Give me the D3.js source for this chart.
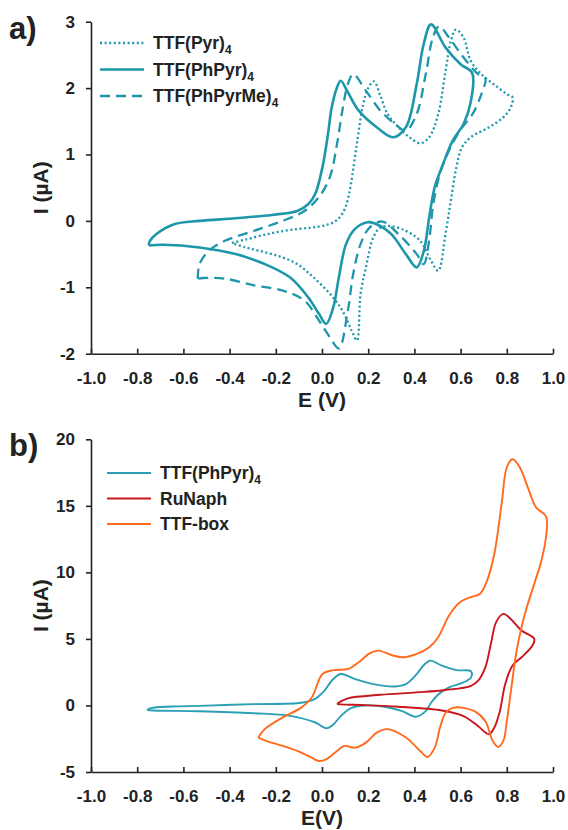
<!DOCTYPE html>
<html>
<head>
<meta charset="utf-8">
<script src="https://cdn.jsdelivr.net/npm/d3@7"></script>
<style>
  body { margin: 0; background: #fff; }
  svg text { font-family: "Liberation Sans", Arial, sans-serif; font-weight: bold; fill: #222; }
</style>
</head>
<body>
<div id="chart"></div>
<script>
// panel a) - TTF(Pyr)4, dotted
var pyrE = [-0.39, -0.33, -0.25, -0.18, -0.10, -0.04, 0.02, 0.06, 0.09, 0.11, 0.125, 0.15, 0.178, 0.2, 0.225, 0.253, 0.284, 0.331, 0.378, 0.425, 0.464, 0.503, 0.535, 0.558, 0.579, 0.613, 0.644, 0.69, 0.754, 0.80, 0.825,
            0.817, 0.785, 0.723, 0.644, 0.605, 0.582, 0.558, 0.535, 0.503, 0.472, 0.425, 0.363, 0.30, 0.253, 0.222, 0.19, 0.167, 0.151, 0.128, 0.096, 0.05, -0.037, -0.107, -0.18, -0.26, -0.33, -0.39];
var pyrI = [-0.33, -0.28, -0.21, -0.16, -0.12, -0.10, -0.06, 0.0, 0.12, 0.30, 0.55, 1.14, 1.75, 2.0, 2.10, 1.88, 1.61, 1.41, 1.26, 1.17, 1.26, 1.61, 2.26, 2.71, 2.88, 2.76, 2.41, 2.21, 2.03, 1.91, 1.86,
            1.71, 1.56, 1.41, 1.26, 1.10, 0.81, 0.31, -0.19, -0.75, -0.60, -0.30, -0.15, -0.08, -0.10, -0.25, -0.70, -1.10, -1.80, -1.65, -1.40, -1.16, -0.85, -0.65, -0.54, -0.46, -0.40, -0.33];

// TTF(PhPyr)4, solid
var phPyrE = [-0.75, -0.745, -0.718, -0.64, -0.53, -0.374, -0.217, -0.107, -0.06, -0.029, 0.002, 0.026, 0.042, 0.065, 0.081, 0.11, 0.159, 0.237, 0.308, 0.363, 0.41, 0.44, 0.472, 0.535, 0.60, 0.65,
              0.645, 0.613, 0.566, 0.519, 0.488, 0.464, 0.441, 0.41, 0.363, 0.30, 0.237, 0.198, 0.143, 0.104, 0.073, 0.049, 0.018, -0.013, -0.06, -0.139, -0.248, -0.374, -0.53, -0.687, -0.75];
var phPyrI = [-0.37, -0.30, -0.20, -0.05, 0.0, 0.04, 0.09, 0.15, 0.25, 0.41, 0.81, 1.31, 1.71, 2.01, 2.11, 1.95, 1.66, 1.41, 1.26, 1.41, 2.06, 2.66, 2.96, 2.61, 2.36, 2.23,
              1.81, 1.46, 1.21, 0.81, 0.51, 0.05, -0.45, -0.70, -0.50, -0.20, -0.05, -0.02, -0.12, -0.35, -0.85, -1.30, -1.55, -1.40, -1.15, -0.85, -0.65, -0.50, -0.40, -0.36, -0.37];

// TTF(PhPyrMe)4, dashed
var phPyrMeE = [-0.538, -0.53, -0.49, -0.42, -0.295, -0.17, -0.076, -0.013, 0.034, 0.065, 0.088, 0.112, 0.135, 0.19, 0.253, 0.316, 0.363, 0.41, 0.449, 0.48, 0.507, 0.55, 0.613, 0.676, 0.707,
                0.69, 0.652, 0.597, 0.55, 0.51, 0.48, 0.464, 0.44, 0.41, 0.331, 0.261, 0.206, 0.167, 0.135, 0.112, 0.073, 0.034, -0.013, -0.076, -0.17, -0.295, -0.42, -0.515, -0.538];
var phPyrMeI = [-0.87, -0.65, -0.45, -0.30, -0.15, 0.0, 0.15, 0.36, 0.66, 1.16, 1.66, 2.06, 2.21, 1.96, 1.66, 1.46, 1.36, 1.61, 2.21, 2.76, 2.93, 2.76, 2.46, 2.21, 2.15,
                1.91, 1.61, 1.36, 1.06, 0.71, 0.21, -0.29, -0.65, -0.50, -0.20, -0.01, -0.10, -0.35, -0.80, -1.35, -1.92, -1.75, -1.50, -1.20, -1.05, -0.97, -0.87, -0.86, -0.87];

// panel b) - TTF(PhPyr)4
var bPhPyrE = [-0.757, -0.74, -0.65, -0.53, -0.295, -0.09, -0.03, 0.01, 0.042, 0.081, 0.143, 0.222, 0.316, 0.363, 0.41, 0.441, 0.469, 0.519, 0.582, 0.645,
               0.645, 0.613, 0.55, 0.503, 0.472, 0.449, 0.406, 0.347, 0.269, 0.19, 0.128, 0.081, 0.049, 0.018, -0.029, -0.139, -0.295, -0.53, -0.734, -0.757];
var bPhPyrI = [-0.35, -0.20, -0.08, -0.03, 0.10, 0.20, 0.50, 1.10, 1.86, 2.36, 1.98, 1.60, 1.43, 1.60, 2.36, 3.04, 3.37, 2.99, 2.66, 2.56,
               2.11, 1.73, 1.36, 0.83, 0.20, -0.43, -0.85, -0.43, -0.10, 0.0, -0.18, -0.80, -1.43, -1.71, -1.28, -0.78, -0.58, -0.43, -0.38, -0.35];

// RuNaph
var ruE = [0.065, 0.112, 0.253, 0.41, 0.535, 0.645, 0.676, 0.707, 0.731, 0.754, 0.785, 0.817, 0.864, 0.919,
           0.911, 0.864, 0.825, 0.793, 0.77, 0.746, 0.723, 0.676, 0.613, 0.519, 0.331, 0.175, 0.081, 0.065];
var ruI = [0.13, 0.53, 0.80, 0.98, 1.16, 1.48, 1.86, 2.86, 4.62, 6.26, 6.88, 6.50, 5.63, 5.00,
           4.50, 3.62, 3.00, 1.60, -0.43, -1.66, -2.16, -1.56, -0.80, -0.38, -0.10, 0.03, 0.08, 0.13];

// TTF-box
var boxE = [-0.276, -0.248, -0.17, -0.092, -0.045, 0.002, 0.049, 0.112, 0.159, 0.206, 0.245, 0.30, 0.355, 0.41, 0.464, 0.503, 0.55, 0.597, 0.644, 0.684, 0.715, 0.746, 0.778, 0.80, 0.825, 0.856, 0.895, 0.926, 0.97,
            0.97, 0.95, 0.919, 0.887, 0.864, 0.84, 0.82, 0.80, 0.785, 0.762, 0.739, 0.707, 0.66, 0.613, 0.566, 0.535, 0.511, 0.488, 0.457, 0.425, 0.363, 0.284, 0.237, 0.19, 0.143, 0.096, 0.065, 0.018, -0.013, -0.045, -0.107, -0.17, -0.233, -0.276];
var boxI = [-2.41, -1.78, -0.90, -0.18, 0.58, 2.36, 2.66, 2.74, 3.24, 3.92, 4.12, 3.79, 3.62, 3.87, 4.37, 5.13, 6.76, 7.76, 8.14, 8.39, 9.40, 11.4, 15.2, 17.9, 18.5, 17.9, 16.2, 14.9, 14.2,
            12.7, 10.9, 9.15, 7.40, 5.90, 3.87, 1.36, -1.18, -2.66, -3.12, -2.66, -1.18, -0.43, -0.18, -0.18, -0.55, -1.66, -3.17, -3.87, -3.42, -2.41, -1.78, -2.04, -2.79, -3.17, -3.04, -3.42, -4.05, -4.17, -3.92, -3.42, -3.04, -2.71, -2.41];

var xTicks = [-1.0, -0.8, -0.6, -0.4, -0.2, 0.0, 0.2, 0.4, 0.6, 0.8, 1.0];
var yTicksA = [-2, -1, 0, 1, 2, 3];
var yTicksB = [-5, 0, 5, 10, 15, 20];

var teal = "#1d97a9";
var red = "#c8161d";
var orange = "#ff6a1c";

var svg = d3.select("#chart")
  .append("svg")
  .attr("width", 568)
  .attr("height", 830);

var left = 91, right = 553;

function zip(es, is) {
  return es.map((e, i) => [e, is[i]]);
}

function drawPanel(cfg) {
  var x = d3.scaleLinear().domain([-1, 1]).range([left, right]);
  var y = d3.scaleLinear().domain(cfg.yDomain).range([cfg.bottom, cfg.top]);

  var xAxis = d3.axisBottom(x).tickValues(xTicks).tickSizeInner(-5).tickSizeOuter(0)
    .tickPadding(18).tickFormat(d => d.toFixed(1));
  var yAxis = d3.axisLeft(y).tickValues(cfg.yTicks).tickSizeInner(5).tickSizeOuter(0)
    .tickPadding(11).tickFormat(d => String(d));

  var gx = svg.append("g").attr("transform", `translate(0, ${cfg.bottom})`).call(xAxis);
  var gy = svg.append("g").attr("transform", `translate(${left}, 0)`).call(yAxis);
  [gx, gy].forEach(g => {
    g.selectAll("path, line").attr("stroke", "#222").attr("stroke-width", 1.6);
    g.selectAll("text").attr("font-size", "17px").attr("fill", "#222")
      .attr("font-family", "'Liberation Sans', Arial, sans-serif").attr("font-weight", "bold");
  });

  var line = d3.line()
    .x(d => x(d[0]))
    .y(d => y(d[1]))
    .curve(d3.curveCatmullRom.alpha(0.5));

  cfg.series.forEach(s => {
    svg.append("path")
      .datum(zip(s.e, s.i))
      .attr("d", line)
      .attr("fill", "none")
      .attr("stroke", s.color)
      .attr("stroke-width", s.width)
      .attr("stroke-dasharray", s.dash || null)
      .attr("stroke-linejoin", "round");
  });

  // legend
  cfg.series.forEach((s, k) => {
    var ly = cfg.legendY + k * cfg.legendStep;
    svg.append("line")
      .attr("x1", cfg.legendX).attr("x2", cfg.legendX + 44)
      .attr("y1", ly).attr("y2", ly)
      .attr("stroke", s.color)
      .attr("stroke-width", s.width)
      .attr("stroke-dasharray", s.dash || null);
    var t = svg.append("text")
      .attr("x", cfg.legendX + 53)
      .attr("y", ly + 6)
      .attr("font-size", "17.5px");
    t.append("tspan").text(s.name);
    if (s.sub) {
      t.append("tspan").attr("font-size", "12px").attr("dy", 5).text(s.sub);
    }
  });

  // axis titles
  svg.append("text")
    .attr("x", (left + right) / 2)
    .attr("y", cfg.bottom + 53)
    .attr("text-anchor", "middle")
    .attr("font-size", "21px")
    .text(cfg.xTitle);

  svg.append("text")
    .attr("transform", `translate(48, ${(cfg.top + cfg.bottom) / 2}) rotate(-90)`)
    .attr("text-anchor", "middle")
    .attr("font-size", "21px")
    .text("I (\u00b5A)");

  svg.append("text")
    .attr("x", 9)
    .attr("y", cfg.top + 17)
    .attr("font-size", "31px")
    .text(cfg.label);
}

drawPanel({
  label: "a)",
  top: 21.7, bottom: 353.7,
  yDomain: [-2, 3], yTicks: yTicksA,
  xTitle: "E (V)",
  legendX: 100, legendY: 43, legendStep: 26.5,
  series: [
    { name: "TTF(Pyr)", sub: "4", e: pyrE, i: pyrI, color: teal, width: 2.3, dash: "2,2.6" },
    { name: "TTF(PhPyr)", sub: "4", e: phPyrE, i: phPyrI, color: teal, width: 2.6 },
    { name: "TTF(PhPyrMe)", sub: "4", e: phPyrMeE, i: phPyrMeI, color: teal, width: 2.3, dash: "10,6" }
  ]
});

drawPanel({
  label: "b)",
  top: 439.3, bottom: 772,
  yDomain: [-5, 20], yTicks: yTicksB,
  xTitle: "E(V)",
  legendX: 107, legendY: 473, legendStep: 25.5,
  series: [
    { name: "TTF(PhPyr)", sub: "4", e: bPhPyrE, i: bPhPyrI, color: "#2a9fb6", width: 1.9 },
    { name: "RuNaph", e: ruE, i: ruI, color: red, width: 1.9 },
    { name: "TTF-box", e: boxE, i: boxI, color: orange, width: 1.9 }
  ]
});
</script>
</body>
</html>
